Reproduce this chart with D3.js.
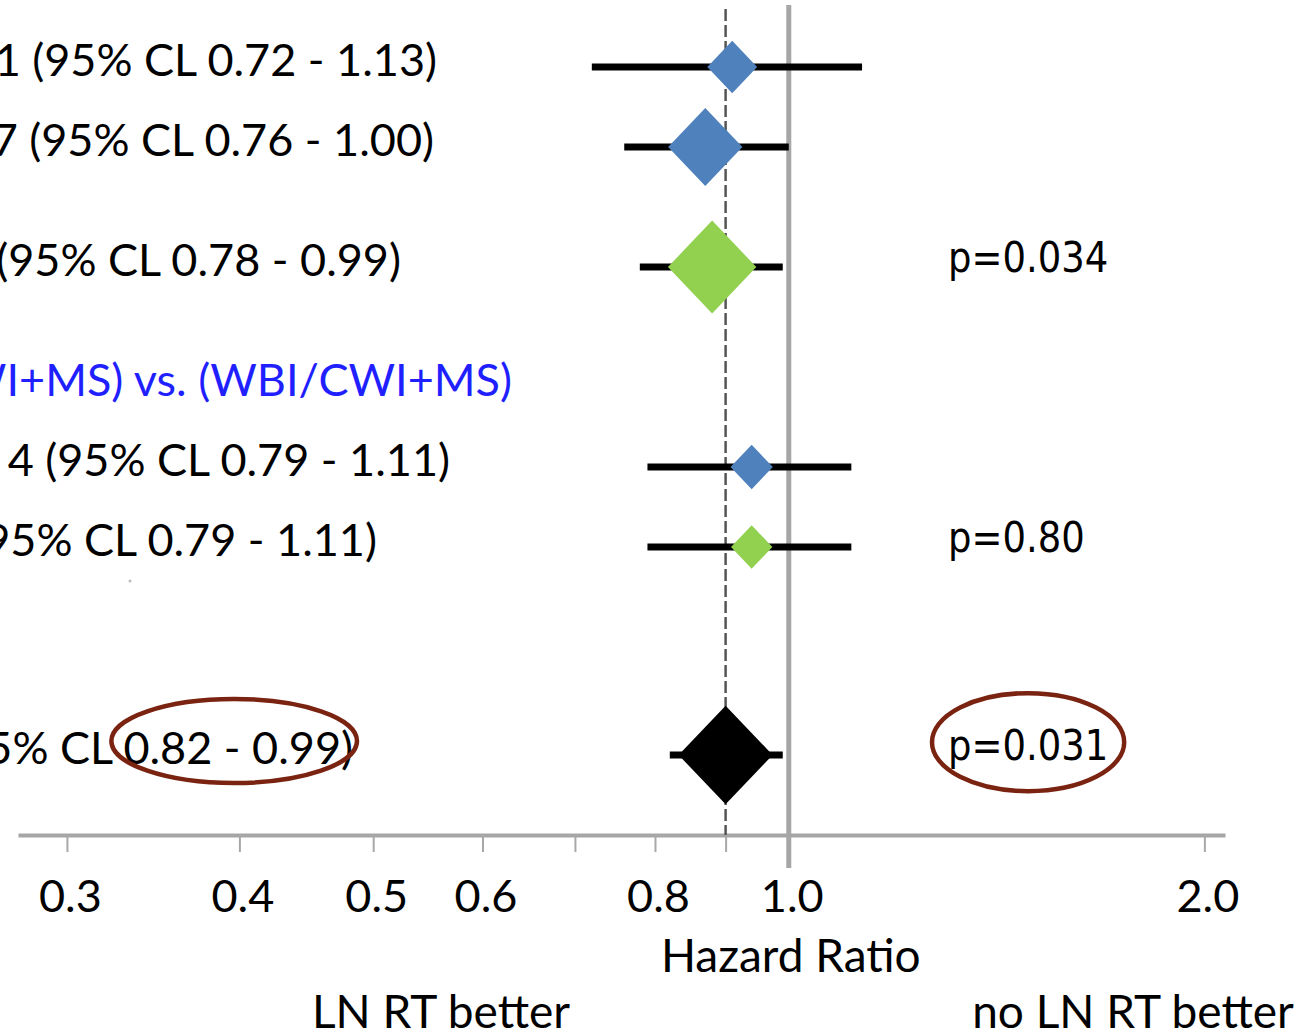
<!DOCTYPE html>
<html lang="en">
<head>
<meta charset="utf-8">
<title>Hazard ratio forest plot</title>
<script src="https://cdnjs.cloudflare.com/ajax/libs/d3/7.8.5/d3.min.js"></script>
<style>
body { margin: 0; background: #fff; overflow: hidden; }
.lbl { font-family: Lato, "Open Sans", sans-serif; font-size: 46px; fill: #000; }
.rowlbl { font-size: 45px; }
.pval { font-family: "DejaVu Sans", sans-serif; font-size: 42px; fill: #000; }
</style>
</head>
<body>
<div id="chart"></div>
<script>

// data
var rowText = ["1 (95% CL 0.72 - 1.13)", "7 (95% CL 0.76 - 1.00)", "(95% CL 0.78 - 0.99)",
               "4 (95% CL 0.79  - 1.11)", "95% CL 0.79 - 1.11)", "5% CL 0.82 - 0.99)"];
var rowSlot = [0, 1, 2.5, 5, 6, 8.6];
var hr = [0.91, 0.87, 0.88, 0.94, 0.94, 0.90];
var lo = [0.72, 0.76, 0.78, 0.79, 0.79, 0.82];
var hi = [1.13, 1.00, 0.99, 1.11, 1.11, 0.99];
var weight = [0.53, 0.79, 0.94, 0.45, 0.44, 1.0];
var kind = ["trial", "trial", "pooled", "trial", "pooled", "overall"];

var headerText = "WI+MS) vs. (WBI/CWI+MS)";
var headerSlot = 4;

var pText = ["p=0.034", "p=0.80", "p=0.031"];
var pRow = [2, 4, 5];

var tickValues = [0.3, 0.4, 0.5, 0.6, 0.7, 0.8, 0.9, 1.0, 2.0];
var tickLabels = ["0.3", "0.4", "0.5", "0.6", "", "0.8", "", "1.0", "2.0"];
var refHR = 1.0;
var pooledHR = 0.90;

// layout
var w = 1315, h = 1036;
var labelEnd = [437, 434, 401, 450, 377, 353];
var headerEnd = 512;
var pX = 948;
var axisY = 835;

var svg = d3.select("#chart").append("svg")
  .attr("width", w).attr("height", h);

var x = d3.scaleLog().domain([0.2765, 2.07]).range([18, 1225]);
var y = d3.scaleLinear().domain([0, 8.6]).range([67, 755]);
var size = d3.scaleLinear().domain([0, 1]).range([0, 47]);
var colour = d3.scaleOrdinal()
  .domain(["trial", "pooled", "overall"])
  .range(["#4f81bd", "#92d050", "#000000"]);

var rows = hr.map(function(d, i) {
  return {hr: d, lo: lo[i], hi: hi[i], w: weight[i], kind: kind[i], slot: rowSlot[i], text: rowText[i]};
});

// axis
var axis = d3.axisBottom(x)
  .tickValues(tickValues)
  .tickFormat(function(d, i) { return tickLabels[i]; })
  .tickSize(17)
  .tickSizeOuter(0);

var gx = svg.append("g").attr("transform", "translate(0," + axisY + ")").call(axis);
gx.select(".domain").attr("stroke", "#a6a6a6").attr("stroke-width", 4);
gx.selectAll(".tick line").attr("stroke", "#a8a8a8").attr("stroke-width", 2);
gx.selectAll(".tick text")
  .attr("class", "lbl")
  .attr("y", 77).attr("dy", 0).attr("dx", 3)
  .style("font-family", "Lato, 'Open Sans', sans-serif").style("font-size", "45px")
  .attr("fill", "#000");

svg.append("text").attr("class", "lbl")
  .attr("x", x(refHR) + 2).attr("y", 972).attr("text-anchor", "middle")
  .text("Hazard Ratio");
svg.append("text").attr("class", "lbl")
  .attr("x", 441).attr("y", 1028).attr("text-anchor", "middle")
  .text("LN RT better");
svg.append("text").attr("class", "lbl")
  .attr("x", 1133).attr("y", 1028).attr("text-anchor", "middle")
  .text("no LN RT better");

// reference lines
svg.append("line")
  .attr("x1", x(refHR)).attr("x2", x(refHR))
  .attr("y1", 5).attr("y2", 868)
  .attr("stroke", "#a6a6a6").attr("stroke-width", 5);

svg.append("line")
  .attr("x1", x(pooledHR)).attr("x2", x(pooledHR))
  .attr("y1", 9).attr("y2", axisY)
  .attr("stroke", "#555").attr("stroke-width", 2.5)
  .attr("stroke-dasharray", "12,4");

// confidence intervals
svg.selectAll(".ci").data(rows).enter().append("line")
  .attr("class", "ci")
  .attr("x1", function(d) { return x(d.lo); })
  .attr("x2", function(d) { return x(d.hi); })
  .attr("y1", function(d) { return y(d.slot); })
  .attr("y2", function(d) { return y(d.slot); })
  .attr("stroke", "#000").attr("stroke-width", 7);

// diamonds
svg.selectAll(".est").data(rows).enter().append("path")
  .attr("class", "est")
  .attr("d", function(d) {
    var cx = x(d.hr), cy = y(d.slot), r = size(d.w), rv = r * 1.05;
    return "M" + (cx - r) + "," + cy + "L" + cx + "," + (cy - rv) +
           "L" + (cx + r) + "," + cy + "L" + cx + "," + (cy + rv) + "Z";
  })
  .attr("fill", function(d) { return colour(d.kind); });

// row labels (cut at the left edge, as in the source)
svg.selectAll(".rowlbl").data(rows).enter().append("text")
  .attr("class", "lbl rowlbl")
  .attr("x", function(d, i) { return labelEnd[i]; })
  .attr("y", function(d) { return y(d.slot) + 9; })
  .attr("text-anchor", "end")
  .text(function(d) { return d.text; });

svg.append("text").attr("class", "lbl rowlbl")
  .attr("x", headerEnd).attr("y", y(headerSlot) + 9)
  .attr("text-anchor", "end")
  .style("fill", "#1f1fff")
  .text(headerText);

// p values
var pv = svg.selectAll(".pval").data(pText).enter().append("text")
  .attr("class", "pval")
  .attr("transform", function(d, i) { return "translate(" + pX + "," + (y(rows[pRow[i]].slot) + 5) + ") scale(0.88,1)"; })
  .text(function(d) { return d; });

// stray dot in the scan
svg.append("circle").attr("cx", 130).attr("cy", 581).attr("r", 1.5).attr("fill", "#bbb");

// highlight ellipses
var red = "#7a2311";
var lastLbl = svg.selectAll(".rowlbl").filter(function(d, i) { return i === rows.length - 1; }).node();
var full = rowText[rows.length - 1];
var s0 = full.indexOf("0.82");
var s1 = full.indexOf(")");
var e0 = lastLbl.getExtentOfChar(s0);
var e1 = lastLbl.getExtentOfChar(s1 - 1);
var ex0 = e0.x, ex1 = e1.x + e1.width;
svg.append("ellipse")
  .attr("cx", (ex0 + ex1) / 2 + 2).attr("cy", y(rows[5].slot) - 14)
  .attr("rx", (ex1 - ex0) / 2 + 14).attr("ry", 42)
  .attr("fill", "none").attr("stroke", red).attr("stroke-width", 4.5);

var pb = pv.filter(function(d, i) { return i === 2; }).node().getBoundingClientRect();
svg.append("ellipse")
  .attr("cx", pb.x + pb.width / 2).attr("cy", pb.y + pb.height / 2 - 3)
  .attr("rx", pb.width / 2 + 16).attr("ry", 49)
  .attr("fill", "none").attr("stroke", red).attr("stroke-width", 4.5);

</script>
</body>
</html>
